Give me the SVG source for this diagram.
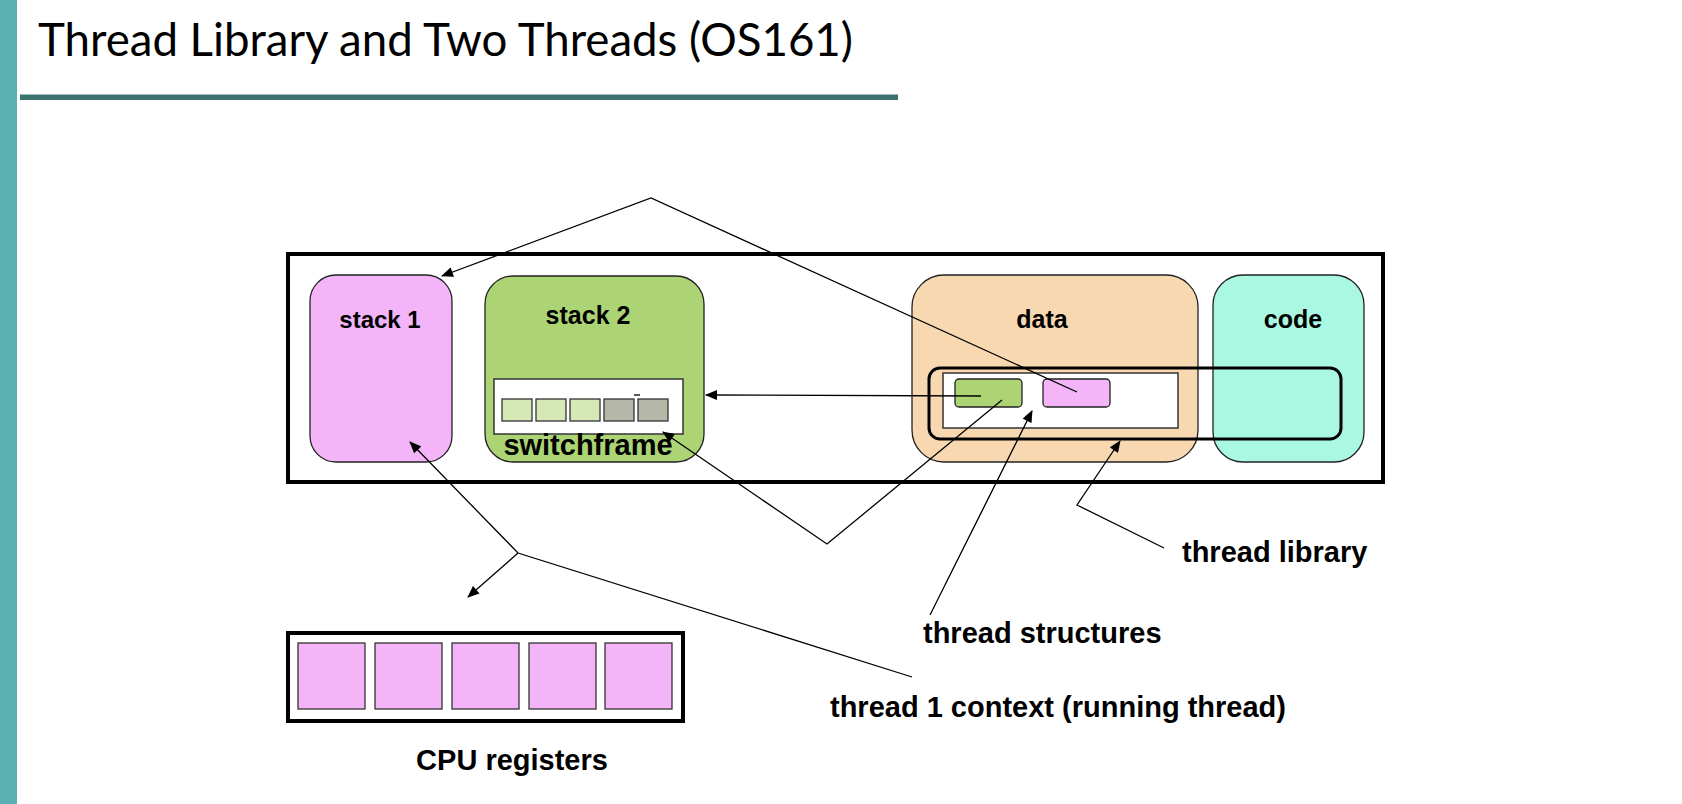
<svg xmlns="http://www.w3.org/2000/svg" width="1682" height="804" viewBox="0 0 1682 804">
<defs>
<marker id="ah" viewBox="0 0 12 10" refX="11" refY="5" markerWidth="13" markerHeight="10" markerUnits="userSpaceOnUse" orient="auto">
<path d="M0,0 L12,5 L0,10 z" fill="#000"/>
</marker>
<style>
.lbl{font-family:"Liberation Sans",Arial,sans-serif;font-weight:bold;fill:#000}
.box{stroke:#222;stroke-width:1.3}
.con{fill:none;stroke:#000;stroke-width:1.3}
.cell{stroke:#333;stroke-width:1.3}
</style>
</defs>
<rect width="1682" height="804" fill="#fff"/>
<rect x="0" y="0" width="17" height="804" fill="#5AAFB0"/>
<text x="38" y="56" font-family="Lato,'Open Sans',sans-serif" font-size="47" textLength="815" lengthAdjust="spacingAndGlyphs" fill="#000">Thread Library and Two Threads (OS161)</text>
<rect x="20" y="94.5" width="878" height="5.5" fill="#3A7370"/>

<g id="memory">
<rect x="288" y="254" width="1095" height="228" fill="none" stroke="#000" stroke-width="4"/>
</g>
<g id="stack1">
<rect class="box" x="310" y="275" width="142" height="187" rx="26" fill="#F4B4F8"/>
<text class="lbl" x="380" y="328" font-size="24" text-anchor="middle">stack 1</text>
</g>
<g id="stack2">
<rect class="box" x="485" y="276" width="219" height="186" rx="28" fill="#ACD474"/>
<text class="lbl" x="588" y="324" font-size="25" text-anchor="middle">stack 2</text>
<rect x="494" y="379" width="189" height="55" fill="#fff" stroke="#333" stroke-width="1.5"/>
<rect class="cell" x="502" y="399" width="30" height="22" fill="#D5E8B6"/>
<rect class="cell" x="536" y="399" width="30" height="22" fill="#D5E8B6"/>
<rect class="cell" x="570" y="399" width="30" height="22" fill="#D5E8B6"/>
<rect class="cell" x="604" y="399" width="30" height="22" fill="#B5B8A9"/>
<rect class="cell" x="638" y="399" width="30" height="22" fill="#B5B8A9"/>
<line x1="634" y1="395" x2="640" y2="395" stroke="#000" stroke-width="1.3"/>
<text class="lbl" x="588" y="455" font-size="29" text-anchor="middle">switchframe</text>
</g>
<g id="data">
<rect class="box" x="912" y="275" width="286" height="187" rx="32" fill="#F8D8B0"/>
<text class="lbl" x="1042" y="328" font-size="25" text-anchor="middle">data</text>
</g>
<g id="code">
<rect class="box" x="1213" y="275" width="151" height="187" rx="30" fill="#AAF8E2"/>
<text class="lbl" x="1293" y="328" font-size="25" text-anchor="middle">code</text>
</g>
<g id="thread-structures">
<rect x="943" y="373" width="235" height="55" fill="#fff" stroke="#333" stroke-width="1.5"/>
<rect class="box" x="955" y="379" width="67" height="28" rx="4" fill="#ACD474"/>
<rect class="box" x="1043" y="379" width="67" height="28" rx="4" fill="#F4B4F8"/>
</g>
<g id="thread-library">
<rect x="929" y="368" width="412" height="71" rx="11" fill="none" stroke="#000" stroke-width="3"/>
</g>
<g id="cpu-registers">
<rect x="288" y="633" width="395" height="88" fill="#fff" stroke="#000" stroke-width="4"/>
<rect class="cell" x="298" y="643" width="67" height="66" fill="#F4B4F8"/>
<rect class="cell" x="375" y="643" width="67" height="66" fill="#F4B4F8"/>
<rect class="cell" x="452" y="643" width="67" height="66" fill="#F4B4F8"/>
<rect class="cell" x="529" y="643" width="67" height="66" fill="#F4B4F8"/>
<rect class="cell" x="605" y="643" width="67" height="66" fill="#F4B4F8"/>
<text class="lbl" x="512" y="770" font-size="29" text-anchor="middle">CPU registers</text>
</g>
<g id="labels">
<text class="lbl" x="1182" y="562" font-size="29">thread library</text>
<text class="lbl" x="923" y="643" font-size="29">thread structures</text>
<text class="lbl" x="830" y="717" font-size="29">thread 1 context (running thread)</text>
</g>
<g id="connectors">
<path class="con" d="M1077,392 L651,198 L442,276" marker-end="url(#ah)"/>
<path class="con" d="M981,396 L706,395" marker-end="url(#ah)"/>
<path class="con" d="M1002,400 L827,544 L663,432" marker-end="url(#ah)"/>
<path class="con" d="M930,615 L1032,411" marker-end="url(#ah)"/>
<path class="con" d="M1164,548 L1077,505 L1120,441" marker-end="url(#ah)"/>
<path class="con" d="M912,677 L518,553 L410,442" marker-end="url(#ah)"/>
<path class="con" d="M518,553 L468,597" marker-end="url(#ah)"/>
</g>
</svg>
